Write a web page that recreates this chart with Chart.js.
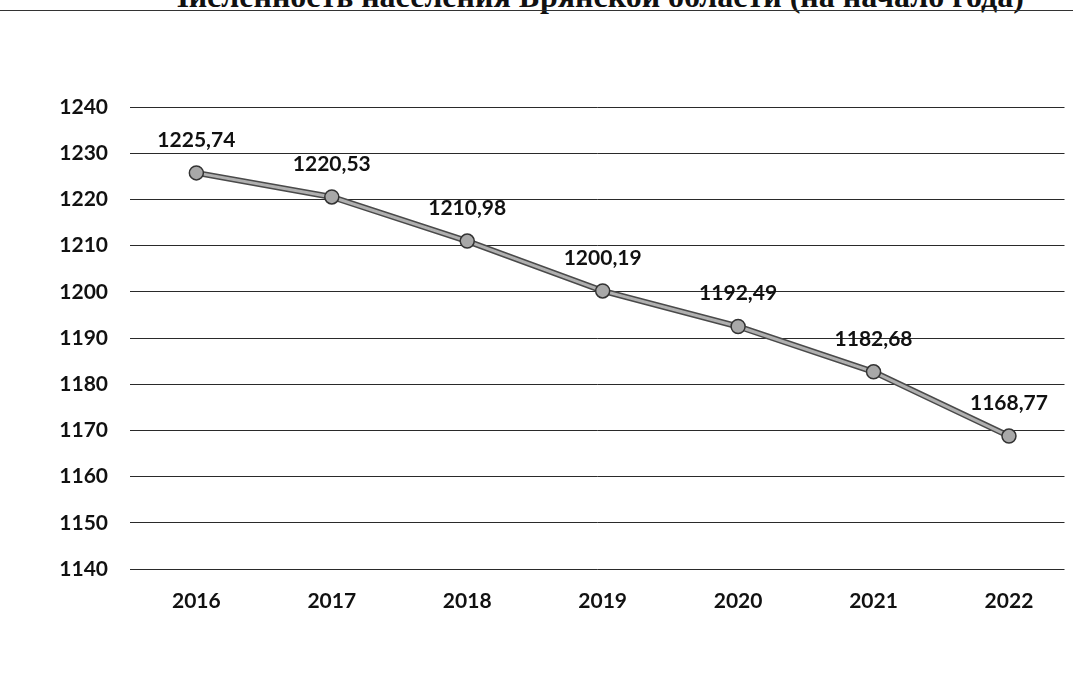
<!DOCTYPE html>
<html>
<head>
<meta charset="utf-8">
<script src="https://cdn.jsdelivr.net/npm/chart.js@4.4.0/dist/chart.umd.min.js"></script>
<style>
    body { margin: 0; background: #fff; }
    #wrap { position: relative; width: 1073px; height: 682px; overflow: hidden; background: #fff; }
    #title {
        position: absolute; left: 0; width: 1073px; top: -20px;
        text-align: center; padding-left: 116px; box-sizing: border-box;
        font: bold 32px "Liberation Serif", "DejaVu Serif", serif; line-height: 32px; color: #111;
        white-space: nowrap;
    }
    #rule { position: absolute; left: 0; top: 10px; width: 1073px; height: 1px; background: #333; }
    canvas { position: absolute; left: 0; top: 0; }
</style>
</head>
<body>
<div id="wrap">
    <div id="title">Численность населения Брянской области (на начало года)</div>
    <div id="rule"></div>
    <canvas id="myChart" width="1073" height="682"></canvas>
</div>
<script>
// Chart data
const years = ['2016', '2017', '2018', '2019', '2020', '2021', '2022'];
const population = [1225.74, 1220.53, 1210.98, 1200.19, 1192.49, 1182.68, 1168.77];
const yTicks = [1140, 1150, 1160, 1170, 1180, 1190, 1200, 1210, 1220, 1230, 1240];

const axisFont = { family: 'Lato, "Noto Sans", sans-serif', size: 21, weight: 'bold' };

// Draw value labels above each point (Russian decimal comma)
const valueLabels = {
    id: 'valueLabels',
    afterDatasetsDraw(chart) {
        const ctx = chart.ctx;
        const meta = chart.getDatasetMeta(1);
        ctx.save();
        ctx.font = 'bold 21px Lato, "Noto Sans", sans-serif';
        ctx.fillStyle = '#111';
        ctx.textAlign = 'center';
        ctx.textBaseline = 'middle';
        meta.data.forEach((pt, i) => {
            ctx.fillText(population[i].toFixed(2).replace('.', ','), pt.x, pt.y - 33);
        });
        ctx.restore();
    }
};

const points = population.map((v, i) => ({ x: i, y: v }));

new Chart(document.getElementById('myChart').getContext('2d'), {
    type: 'line',
    data: {
        datasets: [
            {
                // dark outline under the line
                data: points,
                borderColor: '#4a4a4a',
                borderWidth: 6,
                pointRadius: 0,
                fill: false,
                order: 2
            },
            {
                label: 'Население, тыс. чел.',
                data: points,
                borderColor: '#b0b0b0',
                borderWidth: 3,
                pointRadius: 7,
                pointBackgroundColor: '#a8a8a8',
                pointBorderColor: '#333',
                pointBorderWidth: 1.5,
                fill: false,
                order: 1
            }
        ]
    },
    options: {
        responsive: false,
        animation: false,
        layout: { padding: { top: 107, right: 6, bottom: 0, left: 0 } },
        plugins: {
            legend: { display: false },
            tooltip: { enabled: false }
        },
        scales: {
            x: {
                type: 'linear',
                min: -0.49,
                max: 6.41,
                afterBuildTicks: (scale) => {
                    scale.ticks = years.map((y, i) => ({ value: i }));
                },
                afterFit: (scale) => { scale.height = 113; },
                ticks: {
                    callback: (v) => years[v],
                    font: axisFont,
                    color: '#111',
                    padding: 20
                },
                grid: { display: false, drawTicks: false },
                border: { display: false }
            },
            y: {
                min: 1140,
                max: 1240,
                afterBuildTicks: (scale) => {
                    scale.ticks = yTicks.map(v => ({ value: v }));
                },
                afterFit: (scale) => { scale.width = 130; },
                ticks: {
                    callback: (v) => String(v),
                    font: axisFont,
                    color: '#111',
                    padding: 22
                },
                grid: { color: '#2a2a2a', lineWidth: 1, drawTicks: false },
                border: { display: false }
            }
        }
    },
    plugins: [valueLabels]
});
</script>
</body>
</html>
